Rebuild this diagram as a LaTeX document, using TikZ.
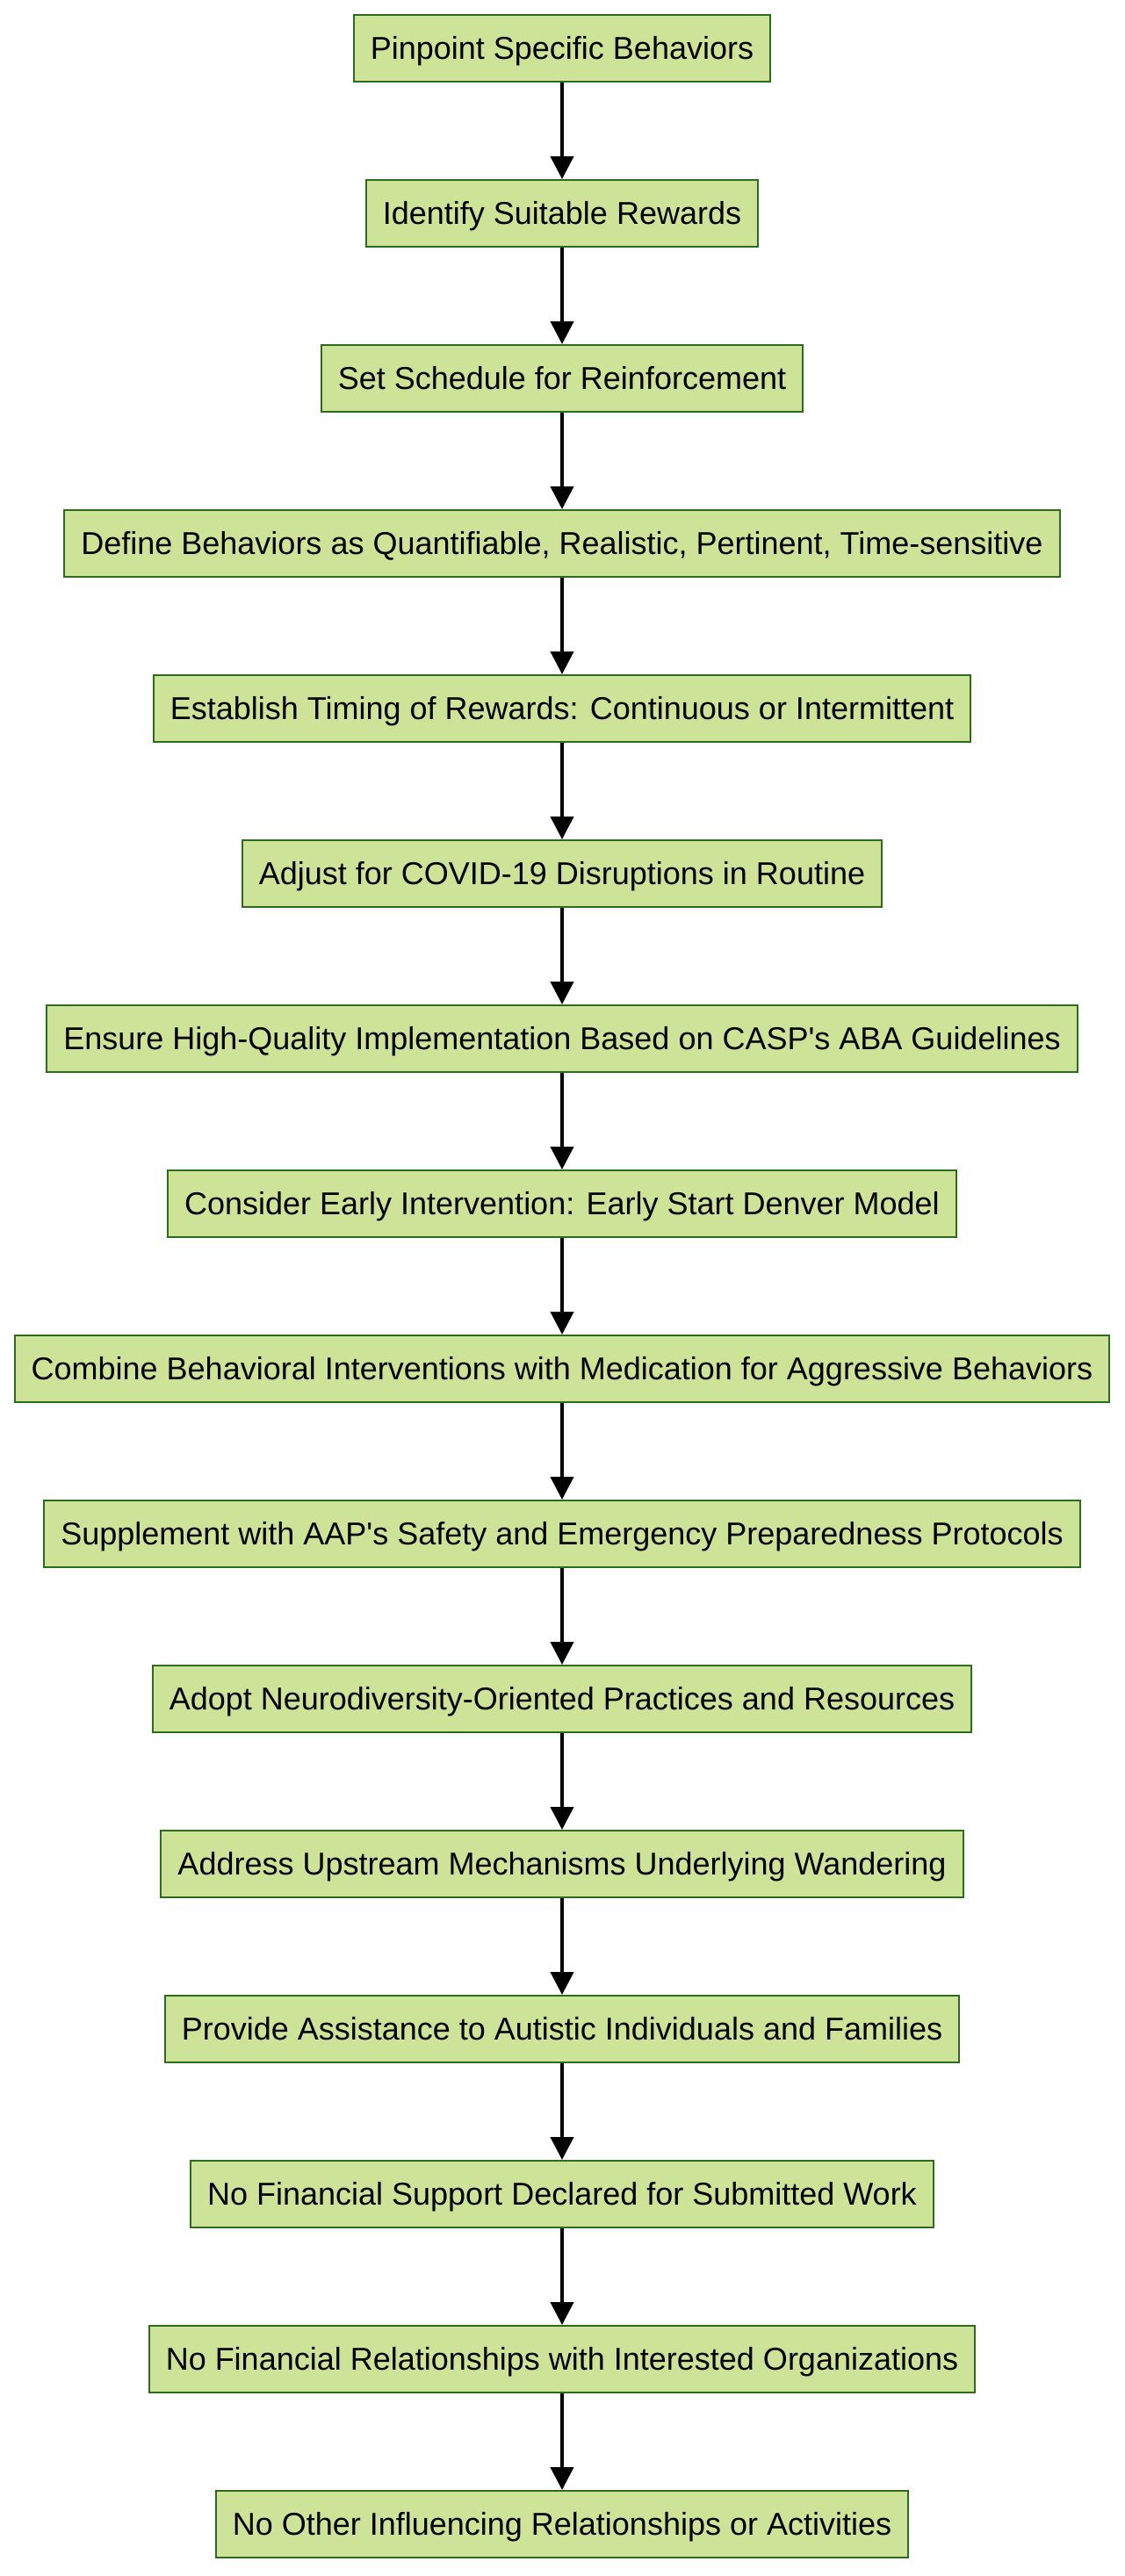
\documentclass[tikz,border=0pt]{standalone}
\usepackage{fontspec}
\setmainfont{Liberation Sans}[Ligatures=TeXOff]
\usetikzlibrary{positioning,arrows.meta}
\definecolor{boxfill}{HTML}{CDE498}
\definecolor{boxline}{HTML}{2E6B1E}
\begin{document}
\begin{tikzpicture}[x=1pt,y=1pt,
    stepbox/.style={draw=boxline,line width=1pt,fill=boxfill,minimum height=38pt,
      inner xsep=9.5pt,text height=12pt,text depth=0pt,font=\fontsize{18}{21}\selectfont},
    flow/.style={-{Triangle[length=13pt,width=13pt]},line width=2pt}]
  \useasboundingbox (0,0) rectangle (640,-1467);
  \node[stepbox] (s1) at (320,-27.5) {Pinpoint Specific Behaviors};
  \foreach \t [count=\i from 2] in {
      Identify Suitable Rewards,
      Set Schedule for Reinforcement,
      {Define Behaviors as Quantifiable, Realistic, Pertinent, Time-sensitive},
      Establish Timing of Rewards: Continuous or Intermittent,
      Adjust for COVID-19 Disruptions in Routine,
      Ensure High-Quality Implementation Based on CASP's ABA Guidelines,
      Consider Early Intervention: Early Start Denver Model,
      Combine Behavioral Interventions with Medication for Aggressive Behaviors,
      Supplement with AAP's Safety and Emergency Preparedness Protocols,
      Adopt Neurodiversity-Oriented Practices and Resources,
      Address Upstream Mechanisms Underlying Wandering,
      Provide Assistance to Autistic Individuals and Families,
      No Financial Support Declared for Submitted Work,
      No Financial Relationships with Interested Organizations,
      No Other Influencing Relationships or Activities} {
    \pgfmathtruncatemacro\j{\i-1}
    \node[stepbox,below=55pt of s\j] (s\i) {\t};
    \draw[flow] (s\j) -- (s\i);
  }
\end{tikzpicture}
\end{document}
